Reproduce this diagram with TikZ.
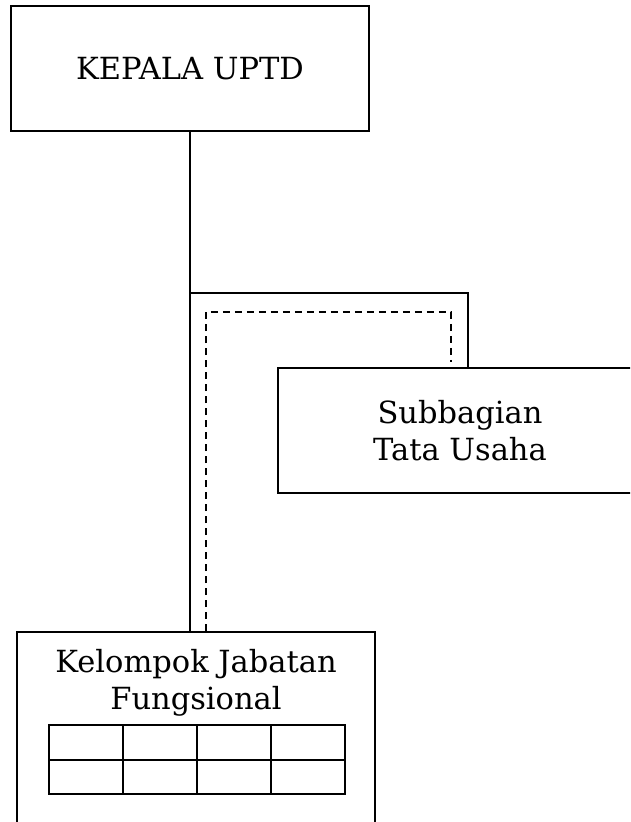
\documentclass[tikz,border=0pt]{standalone}
\usepackage{fontspec}
\setmainfont{DejaVu Serif}
\begin{document}
\begin{tikzpicture}[x=1pt,y=-1pt,
  orgbox/.style={draw=black, line width=1.8pt, inner sep=0pt, align=center, font=\fontsize{30.5}{37}\selectfont},
  link/.style={draw=black, line width=1.5pt},
  dashlink/.style={draw=black, line width=1.5pt, dash pattern=on 7pt off 5pt},
  cellgrid/.style={draw=black, line width=2.8pt},
  label/.style={inner sep=0pt, align=center, font=\fontsize{30.5}{37}\selectfont}]
\useasboundingbox (0,0) rectangle (630,822);
\clip (0,0) rectangle (630,822);
\node[orgbox, minimum width=358pt, minimum height=125pt] (kepala) at (190,68.5) {\raisebox{-2pt}{KEPALA UPTD}};
\node[orgbox, minimum width=364pt, minimum height=125pt] (sub) at (460,430.5) {Subbagian\\Tata Usaha};
\node[draw=black, line width=1.8pt, minimum width=358pt, minimum height=220pt, inner sep=0pt] (fung) at (196,742) {};
\node[label, anchor=north] (fungtext) at (196,649) {Kelompok Jabatan\\Fungsional};
\draw[cellgrid] (49,725) rectangle (345,794);
\draw[cellgrid] (49,760) -- (345,760);
\foreach \x in {123,197,271} \draw[cellgrid] (\x,725) -- (\x,794);
\coordinate (j1) at (190,293);
\coordinate (j2) at (468,293);
\coordinate (d1) at (206,312);
\coordinate (d2) at (451,312);
\coordinate (d3) at (451,362);
\draw[link] (kepala.south) -- (kepala.south |- fung.north);
\draw[link] (j1) -- (j2) -- (j2 |- sub.north);
\draw[dashlink] (d1 |- fung.north) -- (d1) -- (d2) -- (d3);
\end{tikzpicture}
\end{document}
